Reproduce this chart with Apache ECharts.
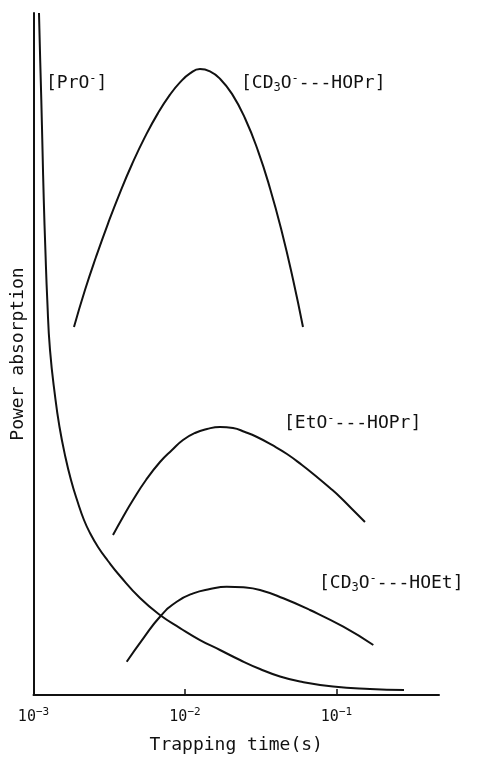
<!DOCTYPE html>
<html>
<head>
<meta charset="utf-8">
<script src="https://cdn.jsdelivr.net/npm/echarts@6/dist/echarts.min.js"></script>
<style>
html,body{margin:0;padding:0;background:#fff;}
#c{width:484px;height:758px;}
</style>
</head>
<body>
<div id="c"></div>
<script>
// Trapping time (s) vs power absorption (arbitrary units, 0-100)
var proO = [[0.001087,100],[0.001107,93.1],[0.001126,87.24],[0.001147,79.9],[0.001169,72.6],[0.001198,65.25],[0.001233,57.9],[0.001285,50.6],[0.001397,43.3],[0.001485,39.3],[0.001602,35.5],[0.001768,31.52],[0.001967,28.15],[0.002154,25.66],[0.00236,23.75],[0.002666,21.7],[0.003103,19.65],[0.003724,17.45],[0.005047,14.22],[0.006839,11.73],[0.009268,9.82],[0.01256,8.06],[0.01702,6.6],[0.02307,5.13],[0.03126,3.81],[0.04238,2.71],[0.05742,1.98],[0.09482,1.25],[0.1663,0.88],[0.279,0.73]];
var cd3oHOPr = [[0.00185,53.96],[0.002187,59.38],[0.002585,64.22],[0.003103,69.13],[0.003724,73.68],[0.004469,77.82],[0.005445,81.83],[0.006634,85.32],[0.007962,88.02],[0.009268,89.82],[0.01079,91.14],[0.01256,91.79],[0.01462,91.44],[0.01702,90.37],[0.02043,88.14],[0.02489,84.57],[0.03033,79.79],[0.03639,74.31],[0.04369,67.82],[0.05163,60.95],[0.0601,53.96]];
var etoHOPr = [[0.003348,23.46],[0.003897,26.1],[0.004537,28.59],[0.005528,31.52],[0.006839,34.16],[0.008209,35.92],[0.009701,37.39],[0.01164,38.42],[0.01397,39.0],[0.01702,39.3],[0.02074,39.15],[0.02489,38.56],[0.02987,37.83],[0.03752,36.66],[0.04712,35.34],[0.05918,33.72],[0.07434,31.96],[0.09061,30.35],[0.1055,29.03],[0.1266,27.27],[0.1542,25.37]];
var cd3oHOEt = [[0.004123,4.88],[0.005306,8.31],[0.006839,11.48],[0.008816,13.68],[0.01134,14.91],[0.01462,15.54],[0.01884,15.88],[0.02426,15.79],[0.03126,15.4],[0.04455,14.18],[0.06685,12.46],[0.1109,10.01],[0.175,7.33]];
var xMin = 0.001, xMax = 0.475;
var xTitle = 'Trapping time(s)';
var yTitle = 'Power absorption';
var seriesLabels = ['[PrO{sup|-}]', '[CD{sub|3}O{sup|-}---HOPr]', '[EtO{sup|-}---HOPr]', '[CD{sub|3}O{sup|-}---HOEt]'];

var FONT = 'DejaVu Sans Mono';
var INK = '#111';
var chart = echarts.init(document.getElementById('c'), null, {renderer: 'canvas'});
function lineSeries(data){
  return {type:'line', data:data, smooth:0.5, showSymbol:false, symbol:'none',
    lineStyle:{color:INK, width:2}, silent:true, animation:false};
}
var richLab = {
  sup:{fontSize:12, fontFamily:FONT, fill:INK, color:INK, padding:[0,0,9,0]},
  sub:{fontSize:12, fontFamily:FONT, fill:INK, color:INK, padding:[9,0,0,0]}
};
function labelGraphic(txt, x, y){
  return {type:'text', left:x, top:y, silent:true,
    style:{text:txt, fontSize:18, fontFamily:FONT, fill:INK, rich:richLab}};
}
chart.setOption({
  animation:false,
  grid:{left:33.5, right:45, top:13, bottom:63, containLabel:false, outerBoundsMode:'none'},
  xAxis:{type:'log', logBase:10, min:xMin, max:xMax,
    name:xTitle, nameLocation:'middle', nameGap:41,
    nameTextStyle:{fontSize:18, fontFamily:FONT, color:INK},
    axisLine:{show:true, lineStyle:{color:INK, width:2}},
    axisTick:{show:true, inside:true, length:6, lineStyle:{color:INK, width:1.5}},
    splitLine:{show:false}, minorTick:{show:false},
    axisLabel:{showMaxLabel:false, margin:12, fontSize:15, fontFamily:FONT, color:INK,
      formatter:function(v){ return '10{sup|−' + Math.abs(Math.round(Math.log10(v))) + '}'; },
      rich:{sup:{fontSize:11, fontFamily:FONT, color:INK, padding:[0,0,9,0]}}}
  },
  yAxis:{type:'value', min:0, max:100,
    name:yTitle, nameLocation:'middle', nameGap:6, nameRotate:90,
    nameTextStyle:{fontSize:18, fontFamily:FONT, color:INK},
    axisLine:{show:true, lineStyle:{color:INK, width:2}},
    axisTick:{show:false}, axisLabel:{show:false}, splitLine:{show:false}
  },
  series:[lineSeries(proO), lineSeries(cd3oHOPr), lineSeries(etoHOPr), lineSeries(cd3oHOEt)],
  graphic:[
    labelGraphic(seriesLabels[0], 46, 73),
    labelGraphic(seriesLabels[1], 241, 73),
    labelGraphic(seriesLabels[2], 284, 413),
    labelGraphic(seriesLabels[3], 319, 573)
  ]
});
</script>
</body>
</html>
